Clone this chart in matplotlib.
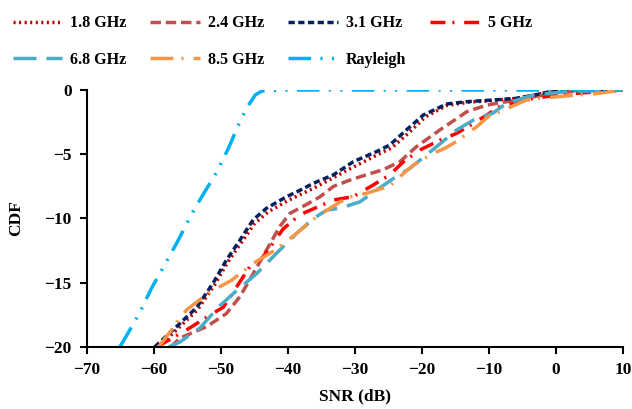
import matplotlib.pyplot as plt

plt.rcParams['font.family'] = ['Liberation Serif', 'DejaVu Serif']
plt.rcParams['font.weight'] = 'bold'

# SNR (dB) / CDF (dB) pairs per band
snr_18 = [-59.3, -56.5, -53.5, -51.0, -49.0, -47.0, -45.0, -43.0, -40.0, -36.0, -31.0,
          -26.5, -24.5, -22.0, -19.5, -16.3, -13.0, -9.4, -5.9, -2.4, 0.0, 5.0, 10.0]
cdf_18 = [-20.0, -18.6, -17.1, -15.2, -13.4, -11.9, -10.4, -9.5, -8.6, -7.6, -6.2,
          -5.0, -4.5, -3.35, -2.1, -1.2, -0.95, -0.82, -0.65, -0.3, -0.1, 0.0, 0.0]

snr_24 = [-57.5, -56.1, -52.1, -49.2, -47.2, -45.2, -43.2, -41.2, -39.7, -37.2, -35.2,
          -33.2, -30.7, -28.3, -25.8, -23.3, -20.8, -17.3, -13.3, -10.3, -5.9, -0.4, 4.1, 10.0]
cdf_24 = [-20.0, -19.3, -18.4, -17.4, -16.1, -14.3, -12.45, -10.6, -9.6, -8.9, -8.3,
          -7.5, -7.0, -6.6, -6.2, -5.58, -4.4, -3.1, -1.69, -1.17, -0.78, -0.26, -0.05, 0.0]

snr_31 = [-59.9, -56.6, -53.6, -51.15, -49.15, -47.2, -45.2, -43.2, -40.2, -38.2, -36.2,
          -33.2, -30.25, -26.8, -24.8, -22.3, -19.8, -16.3, -13.3, -9.4, -5.9, -2.4, 0.1, 10.0]
cdf_31 = [-20.0, -18.4, -16.9, -15.0, -13.2, -11.7, -10.1, -9.2, -8.3, -7.8, -7.26,
          -6.6, -5.58, -4.8, -4.28, -3.1, -1.95, -1.09, -0.91, -0.78, -0.65, -0.31, 0.0, 0.0]

snr_5 = [-59.5, -58.6, -54.6, -51.6, -49.65, -45.7, -43.9, -42.2, -40.7, -38.2, -33.2,
         -30.25, -27.3, -24.8, -22.8, -20.3, -17.3, -14.8, -12.3, -8.4, -3.4, 1.6, 6.6, 10.0]
cdf_5 = [-20.0, -19.7, -18.5, -17.5, -16.9, -13.75, -13.1, -11.9, -10.8, -9.7, -8.56,
         -8.3, -7.4, -6.6, -5.6, -4.67, -3.9, -3.37, -2.6, -1.3, -0.65, -0.31, -0.13, 0.0]

snr_68 = [-57.8, -56.1, -53.1, -50.4, -47.65, -44.7, -41.7, -38.7, -36.2, -34.2, -32.2,
          -29.25, -26.8, -24.3, -21.8, -17.8, -14.8, -12.3, -9.4, -7.4, -3.4, 1.6, 10.0]
cdf_68 = [-20.0, -19.6, -18.5, -16.9, -15.6, -14.3, -12.7, -11.15, -10.0, -9.34, -9.2,
          -8.7, -7.8, -6.9, -6.1, -4.4, -3.1, -2.33, -1.8, -1.04, -0.39, -0.13, 0.0]

snr_85 = [-59.35, -57.4, -56.4, -55.1, -51.9, -50.15, -48.4, -45.2, -41.9, -38.7, -35.7,
          -32.2, -30.5, -28.3, -24.8, -23.3, -21.3, -18.3, -16.6, -14.8, -11.8, -10.1,
          -8.4, -4.4, -2.4, 3.1, 5.5, 10.0]
cdf_85 = [-20.0, -18.7, -17.9, -17.1, -15.8, -15.3, -14.8, -13.5, -12.45, -11.15, -9.86,
          -8.7, -8.3, -8.04, -7.47, -6.75, -5.84, -4.93, -4.54, -4.0, -2.85, -2.07,
          -1.69, -0.78, -0.65, -0.39, -0.31, 0.0]

snr_ray = [-65.1, -62.3, -60.35, -58.4, -56.6, -53.9, -50.6, -48.9, -47.2, -46.2, -44.9,
           -43.9, -40.0, 10.0]
cdf_ray = [-20.0, -17.5, -15.4, -13.6, -11.9, -9.2, -6.35, -4.54, -2.5, -1.43, -0.39,
           -0.08, 0.0, 0.0]

series = [
    ('1.8 GHz', snr_18, cdf_18, '#C00000', (0, (0.6, 1.0))),
    ('2.4 GHz', snr_24, cdf_24, '#C0504D', (0, (3.0, 1.4))),
    ('3.1 GHz', snr_31, cdf_31, '#002060', (0, (1.8, 1.0))),
    ('5 GHz', snr_5, cdf_5, '#FF0000', (0, (4.3, 2.0, 0.6, 2.8))),
    ('6.8 GHz', snr_68, cdf_68, '#4BACC6', (0, (6.6, 2.9))),
    ('8.5 GHz', snr_85, cdf_85, '#F79646', (0, (6.6, 2.3, 0.6, 2.9))),
    ('Rayleigh', snr_ray, cdf_ray, '#00B0F0', (0, (6.5, 2.7, 0.6, 2.7, 0.6, 2.7))),
]

fig = plt.figure(figsize=(6.32, 4.09), dpi=100)
ax = fig.add_axes([0.1377, 0.1516, 0.848, 0.6284])

handles = {}
for name, x, y, col, ls in series:
    h, = ax.plot(x, y, color=col, linestyle=ls, linewidth=2.5, label=name)
    handles[name] = h

ax.set_xlim(-70, 10)
ax.set_ylim(-20, 0)
ax.set_xticks(range(-70, 11, 10))
ax.set_yticks(range(-20, 1, 5))
for s in ['top', 'right']:
    ax.spines[s].set_visible(False)
for s in ['left', 'bottom']:
    ax.spines[s].set_linewidth(1.5)
ax.tick_params(direction='out', length=5, width=1.5, labelsize=12.5, pad=6)
ax.set_xlabel('SNR (dB)', fontsize=12.5, fontweight='bold', labelpad=7)
ax.set_ylabel('CDF', fontsize=12.5, fontweight='bold', labelpad=15)

# legend is filled column-wise, so interleave the two rows
order = ['1.8 GHz', '6.8 GHz', '2.4 GHz', '8.5 GHz', '3.1 GHz', 'Rayleigh', '5 GHz']
fig.legend([handles[k] for k in order], order, loc='upper left',
           bbox_to_anchor=(-0.004, 1.0), ncol=4, frameon=False, borderaxespad=0.55,
           prop={'size': 11.5, 'weight': 'bold'}, handlelength=3.1,
           handletextpad=0.5, columnspacing=1.5, labelspacing=1.3)

fig.savefig('out.png', dpi=100)
